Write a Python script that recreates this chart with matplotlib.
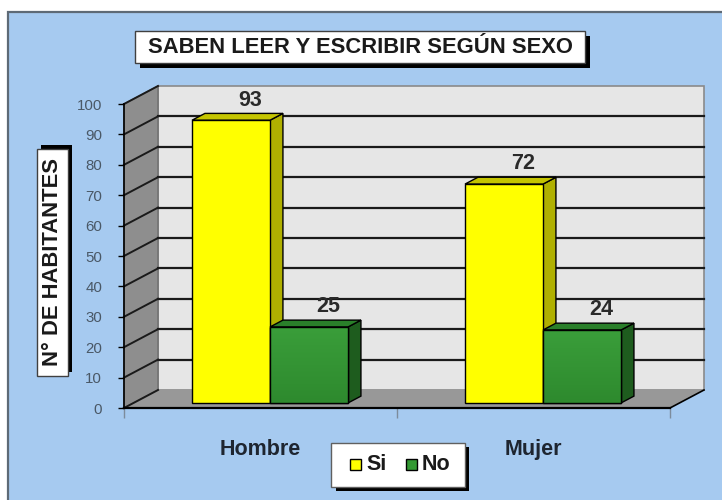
import matplotlib
matplotlib.use('Agg')
import matplotlib.pyplot as plt
import numpy as np
from matplotlib.patches import Polygon, Rectangle

plt.rcParams['font.family'] = ['Liberation Sans', 'DejaVu Sans']

# data
title = 'SABEN LEER Y ESCRIBIR SEGÚN SEXO'
y_label = 'N° DE HABITANTES'
categories = ['Hombre', 'Mujer']
series_names = ['Si', 'No']
si_values = [93, 72]
no_values = [25, 24]
y_ticks = list(range(0, 101, 10))

# styling
BG_BLUE = '#A6CAF0'
FRONT = ['#FFFF00', '#339933']
SIDE = ['#B0B000', '#1E5C1E']
TOP = ['#C4C400', '#2A7F2A']

W, H = 722, 500
fig = plt.figure(figsize=(W / 100, H / 100), dpi=100)
fig.patch.set_facecolor('white')


def fig_rect(x0, y0, x1, y1, **kw):
    # pixel coords measured from top-left of the figure
    r = Rectangle((x0 / W, 1 - y1 / H), (x1 - x0) / W, (y1 - y0) / H,
                  transform=fig.transFigure, **kw)
    fig.patches.append(r)
    return r


# chart area
fig_rect(8, 12, W + 20, H + 20, facecolor=BG_BLUE, edgecolor='#5E6A76', linewidth=1.6, zorder=-5)

# front plane of the plot: x 124..670 px, value 0 at y=408, 100 at y=104
ax = fig.add_axes([124 / W, (H - 408) / H, 546 / W, 304 / H])
ax.set_zorder(1)
ax.set_xlim(0, 2)
ax.set_ylim(0, 100)
ax.patch.set_visible(False)

# depth of the 3d box in data units
DX = 34 / 273
DY = 18 / 3.04


def poly(points, **kw):
    p = Polygon(points, closed=True, clip_on=False, **kw)
    ax.add_patch(p)
    return p


# walls and floor
poly([(DX, DY), (2 + DX, DY), (2 + DX, 100 + DY), (DX, 100 + DY)],
     facecolor='#E6E6E6', edgecolor='#8A8A8A', linewidth=1.2, zorder=1)
poly([(0, 0), (DX, DY), (DX, 100 + DY), (0, 100)],
     facecolor='#8E8E8E', edgecolor='#6E6E6E', linewidth=1.0, zorder=1)
poly([(0, 0), (2, 0), (2 + DX, DY), (DX, DY)],
     facecolor='#989898', edgecolor='none', zorder=1)
ax.plot([2, 2 + DX], [0, DY], color='black', linewidth=1.2, clip_on=False, zorder=1.5)

for v in y_ticks[1:-1]:
    ax.plot([DX, 2 + DX], [v + DY, v + DY], color='#1A1A1A', linewidth=1.6,
            clip_on=False, zorder=1.2)
for v in y_ticks:
    ax.plot([0, DX], [v, v + DY], color='#1A1A1A', linewidth=1.4,
            clip_on=False, zorder=1.2)

# bars
bar_w = 78 / 273
f0, f1 = 0.28, 0.66
x_centers = np.arange(len(categories)) + 0.5
for si, (name, values) in enumerate(zip(series_names, [si_values, no_values])):
    for ci, v in enumerate(values):
        x0 = x_centers[ci] - bar_w + si * bar_w
        x1 = x0 + bar_w
        ax0, ay0 = x0 + f0 * DX, f0 * DY
        ax1 = x1 + f0 * DX
        bx1, by0 = x1 + f1 * DX, f1 * DY
        bx0 = x0 + f1 * DX
        # side face
        poly([(ax1, ay0), (bx1, by0), (bx1, v + by0), (ax1, v + ay0)],
             facecolor=SIDE[si], edgecolor='black', linewidth=1.0, zorder=3 + si)
        # top face
        poly([(ax0, v + ay0), (ax1, v + ay0), (bx1, v + by0), (bx0, v + by0)],
             facecolor=TOP[si], edgecolor='black', linewidth=1.0, zorder=3 + si)
        # front face
        front = poly([(ax0, ay0), (ax1, ay0), (ax1, v + ay0), (ax0, v + ay0)],
                     facecolor=FRONT[si], edgecolor='black', linewidth=1.0, zorder=3 + si)
        if si == 1:
            grad = np.linspace(0, 1, 64).reshape(-1, 1)
            cmap = matplotlib.colors.LinearSegmentedColormap.from_list('g', ['#2E8A2E', '#3A9E3A'])
            im = ax.imshow(grad, extent=(ax0, ax1, ay0, v + ay0), origin='lower',
                           cmap=cmap, aspect='auto', zorder=3 + si + 0.01)
            im.set_clip_path(front)
            poly([(ax0, ay0), (ax1, ay0), (ax1, v + ay0), (ax0, v + ay0)],
                 facecolor='none', edgecolor='black', linewidth=1.0, zorder=3 + si + 0.02)
        ax.text(x0 + bar_w / 2 + (f0 + 0.57) * DX, v + 8.3, str(v), ha='center', va='center',
                fontsize=15.5, fontweight='bold', color='#2A2A2A', zorder=6)

ax.set_xlim(0, 2)
ax.set_ylim(0, 100)

# axes lines and ticks
for s in ['top', 'right']:
    ax.spines[s].set_visible(False)
ax.spines['left'].set_color('black')
ax.spines['left'].set_linewidth(1.2)
ax.spines['bottom'].set_color('black')
ax.spines['bottom'].set_linewidth(1.6)
ax.spines['left'].set_zorder(5)
ax.spines['bottom'].set_zorder(5)

ax.set_yticks(y_ticks)
ax.tick_params(axis='y', direction='out', length=4.3, width=1.0, color='black',
               pad=11.5, labelsize=10.8, labelcolor='#4A5866')
ax.set_xticks([0, 1, 2])
ax.set_xticklabels([])
ax.tick_params(axis='x', which='major', direction='out', length=7.2, width=1.0, color='#7D8C9C')
ax.set_xticks(x_centers, minor=True)
ax.set_xticklabels(categories, minor=True, fontsize=15.5, fontweight='bold', color='#1E2530')
ax.tick_params(axis='x', which='minor', length=0, pad=22)

# title box with shadow
fig_rect(140, 36, 590, 68, facecolor='black', edgecolor='none', zorder=5)
fig_rect(135, 31, 585, 63, facecolor='white', edgecolor='#404040', linewidth=1.0, zorder=6)
fig.text(360 / W, 1 - 47.5 / H, title, ha='center', va='center', fontsize=15.8,
         fontweight='bold', color='#1A1A1A', zorder=7)

# y label box with shadow
fig_rect(41, 145, 72, 372, facecolor='black', edgecolor='none', zorder=5)
fig_rect(37, 149, 68, 376, facecolor='white', edgecolor='#404040', linewidth=1.0, zorder=6)
fig.text(53 / W, 1 - 262.5 / H, y_label, ha='center', va='center', rotation=90,
         fontsize=15.8, fontweight='bold', color='#1A1A1A', zorder=7)

# legend box with shadow
fig_rect(336, 447, 469, 491, facecolor='black', edgecolor='none', zorder=5)
fig_rect(331, 443, 465, 487, facecolor='white', edgecolor='#606060', linewidth=1.0, zorder=6)
leg_x = [350, 406]
for name, color, lx in zip(series_names, FRONT, leg_x):
    fig_rect(lx, 459, lx + 11, 470, facecolor=color, edgecolor='black', linewidth=1.0, zorder=7)
    fig.text((lx + 16) / W, 1 - 465 / H, name, ha='left', va='center', fontsize=15.5,
             fontweight='bold', color='#1A1A1A', zorder=7)

fig.savefig('out.png', dpi=100)
